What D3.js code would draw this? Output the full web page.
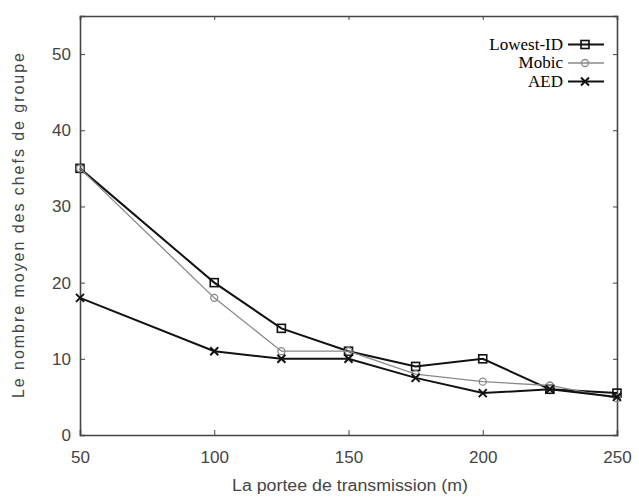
<!DOCTYPE html>
<html lang="fr">
<head>
<meta charset="UTF-8">
<script src="https://d3js.org/d3.v7.min.js"></script>
<title>Chefs de groupe</title>
<style>
  body { margin: 0; padding: 0; background: #fff; }
  .tick text { font-family: "Liberation Sans", Arial, sans-serif; font-size: 17px; fill: #444; }
  .legend text { font-family: "Liberation Serif", "Times New Roman", serif; font-size: 17px; fill: #000; }
  .title { font-family: "Liberation Sans", Arial, sans-serif; font-size: 16px; fill: #444; }
</style>
</head>
<body>
<div id="chart"></div>
<script>
  // donnees
  let portee = [50, 100, 125, 150, 175, 200, 225, 250];
  let lowestId = [35, 20, 14, 11, 9, 10, 6, 5.5];
  let mobic = [35, 18, 11, 11, 8, 7, 6.5, 4.8];
  let aed = [18, 11, 10, 10, 7.5, 5.5, 6, 5];
  let xTicks = [50, 100, 150, 200, 250];
  let yTicks = [0, 10, 20, 30, 40, 50];

  let width = 639, height = 497;
  let margin = { left: 80, right: 22, top: 16, bottom: 62 };

  let svg = d3.select("#chart").append("svg")
    .attr("width", width).attr("height", height);

  let x = d3.scaleLinear().domain([50, 250]).range([margin.left, width - margin.right]);
  let y = d3.scaleLinear().domain([0, 55]).range([height - margin.bottom, margin.top]);

  let series = [
    { name: "Lowest-ID", vals: lowestId, color: "#111", w: 2, mark: "square" },
    { name: "Mobic", vals: mobic, color: "#888", w: 1.3, mark: "circle" },
    { name: "AED", vals: aed, color: "#111", w: 2, mark: "cross" }
  ];

  // axes (ticks vers l'interieur, style gnuplot)
  let gx = svg.append("g").attr("transform", `translate(0,${y(0)})`)
    .call(d3.axisBottom(x).tickValues(xTicks).tickSize(-5).tickPadding(16));
  let gx2 = svg.append("g").attr("transform", `translate(0,${margin.top})`)
    .call(d3.axisTop(x).tickValues(xTicks).tickSize(-4).tickFormat(""));
  let gy = svg.append("g").attr("transform", `translate(${margin.left},0)`)
    .call(d3.axisLeft(y).tickValues(yTicks).tickSize(-5).tickPadding(9));
  let gy2 = svg.append("g").attr("transform", `translate(${width - margin.right},0)`)
    .call(d3.axisRight(y).tickValues(yTicks).tickSize(-4).tickFormat(""));
  [gx, gx2, gy, gy2].forEach(g => {
    g.select(".domain").attr("stroke", "#444").attr("stroke-width", 1.6);
    g.selectAll(".tick line").attr("stroke", "#444");
  });

  let line = d3.line().x((d, i) => x(portee[i])).y(d => y(d));

  function drawMark(g, type, cx, cy, color) {
    if (type === "square") {
      g.append("rect").attr("x", cx - 4).attr("y", cy - 4).attr("width", 8).attr("height", 8)
        .attr("fill", "none").attr("stroke", color).attr("stroke-width", 1.6);
    } else if (type === "circle") {
      g.append("circle").attr("cx", cx).attr("cy", cy).attr("r", 3.5)
        .attr("fill", "none").attr("stroke", color).attr("stroke-width", 1.3);
    } else {
      g.append("path").attr("d", `M${cx - 4},${cy - 4}L${cx + 4},${cy + 4}M${cx - 4},${cy + 4}L${cx + 4},${cy - 4}`)
        .attr("stroke", color).attr("stroke-width", 2);
    }
  }

  series.forEach(s => {
    let g = svg.append("g");
    g.append("path").datum(s.vals).attr("d", line)
      .attr("fill", "none").attr("stroke", s.color).attr("stroke-width", s.w);
    s.vals.forEach((v, i) => drawMark(g, s.mark, x(portee[i]), y(v), s.color));
  });

  // legende
  let leg = svg.append("g").attr("class", "legend");
  series.forEach((s, i) => {
    let ly = 44.5 + i * 18.5;
    leg.append("text").attr("x", 563).attr("y", ly + 5).attr("text-anchor", "end").text(s.name);
    leg.append("line").attr("x1", 568).attr("x2", 604).attr("y1", ly).attr("y2", ly)
      .attr("stroke", s.color).attr("stroke-width", s.w);
    drawMark(leg, s.mark, 585, ly, s.color);
  });

  // titres des axes
  svg.append("text").attr("class", "title")
    .attr("x", 232).attr("y", 491)
    .attr("textLength", 236).attr("lengthAdjust", "spacingAndGlyphs")
    .text("La portee de transmission (m)");
  svg.append("text").attr("class", "title")
    .attr("transform", "translate(24,398) rotate(-90)")
    .attr("textLength", 345).attr("lengthAdjust", "spacing")
    .text("Le nombre moyen des chefs de groupe");
</script>
</body>
</html>
